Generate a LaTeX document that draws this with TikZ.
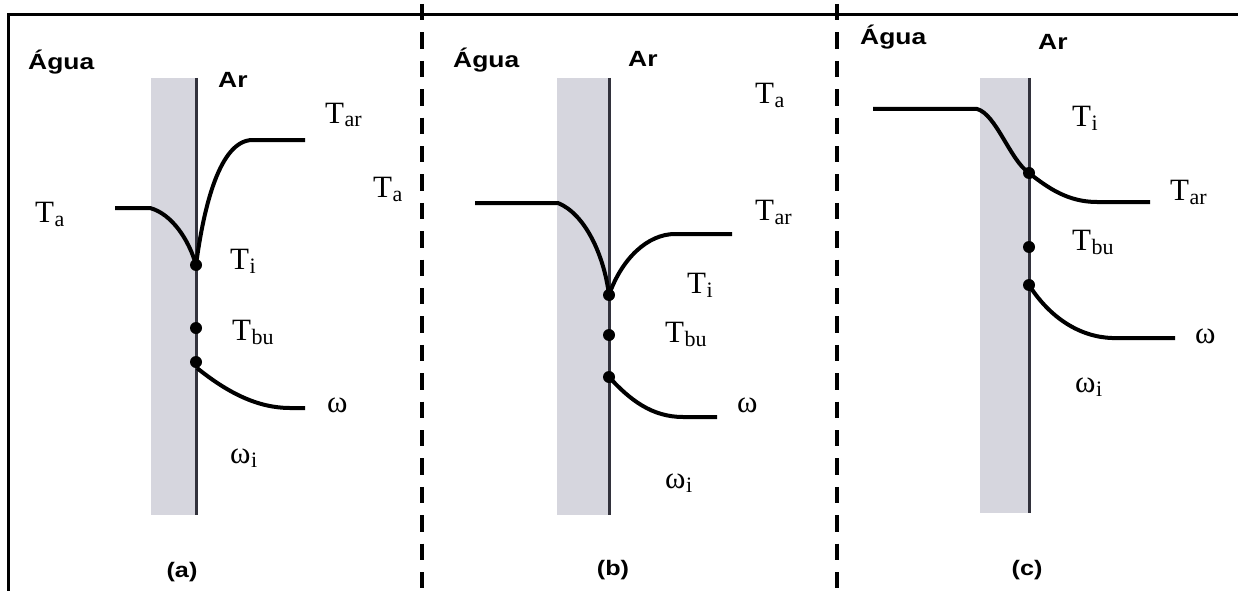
\documentclass[tikz,border=0pt]{standalone}
\usepackage{fontspec}
\setmainfont{Liberation Serif}
\newfontfamily\arialf{Liberation Sans}
\definecolor{bandgray}{RGB}{214,214,222}
\definecolor{wallline}{RGB}{50,50,60}
\newcommand{\Tsub}[2]{#1\kern0.5pt\raisebox{-4pt}{\fontsize{22}{22}\selectfont #2}}
\newcommand{\swide}[1]{\scalebox{1.2}[1]{#1}}
\begin{document}
\begin{tikzpicture}[x=1pt,y=-1pt,
  lab/.style={anchor=base west, inner sep=0pt, font=\fontsize{31}{31}\selectfont},
  hdr/.style={anchor=base west, inner sep=0pt, font=\arialf\bfseries\fontsize{22}{22}\selectfont},
  capt/.style={inner sep=0pt, font=\arialf\bfseries\fontsize{21}{21}\selectfont},
  curve/.style={line width=4pt},
  wall/.style={line width=3pt, draw=wallline},
  band/.style={fill=bandgray},
  dot/.style={circle, fill=black, minimum size=12pt, inner sep=0pt},
  frame/.style={line width=3.5pt},
  sep/.style={line width=4pt, dash pattern=on 16.4pt off 12pt}]
\useasboundingbox (0,0) rectangle (1238,591);
% frame
\draw[frame] (7,14.5) -- (1238,14.5);
\draw[frame] (8.5,13) -- (8.5,591);
\draw[sep] (422,4) -- (422,591);
\draw[sep] (837,4) -- (837,591);

% ---------------- panel (a)
\fill[band] (151,78) rectangle (196,515);
\draw[wall] (196,78) -- (196,515);
\coordinate (aTi) at (196,265);
\coordinate (aTbu) at (196,328);
\coordinate (aWi) at (196,362);
\draw[curve] (115,208) -- (150,208) .. controls (172,214) and (189,240) .. (aTi);
\draw[curve] (aTi) .. controls (204,205) and (220,141) .. (252,140) -- (305,140);
\draw[curve] (197,368) .. controls (228,393) and (258,408) .. (290,408) -- (305,408);
\node[dot] (daTi) at (aTi) {};
\node[dot] (daTbu) at (aTbu) {};
\node[dot] (daWi) at (aWi) {};
\node[hdr] (aAgua) at (28,70) {\swide{Água}};
\node[hdr] (aAr) at (218,88) {\swide{Ar}};
\node[lab] (aLTa) at (35,222) {\Tsub{T}{a}};
\node[lab] (aLTar) at (325,123) {\Tsub{T}{ar}};
\node[lab] (aLTa2) at (373,197) {\Tsub{T}{a}};
\node[lab] (aLTi) at (230,269) {\Tsub{T}{i}};
\node[lab] (aLTbu) at (232,340) {\Tsub{T}{bu}};
\node[lab] (aLw) at (327,412) {ω};
\node[lab] (aLwi) at (230,463) {\Tsub{ω}{i}};
\node[capt] (aCap) at (182,572) {\swide{(a)}};

% ---------------- panel (b)
\fill[band] (557,78) rectangle (609,515);
\draw[wall] (609,78) -- (609,515);
\coordinate (bTi) at (609,295);
\coordinate (bTbu) at (609,335);
\coordinate (bWi) at (609,377);
\draw[curve] (475,203) -- (558,203) .. controls (585,214) and (604,255) .. (bTi);
\draw[curve] (bTi) .. controls (622,258) and (648,234) .. (675,234) -- (732,234);
\draw[curve] (bWi) .. controls (630,400) and (652,417) .. (683,417) -- (717,417);
\node[dot] (dbTi) at (bTi) {};
\node[dot] (dbTbu) at (bTbu) {};
\node[dot] (dbWi) at (bWi) {};
\node[hdr] (bAgua) at (453,68) {\swide{Água}};
\node[hdr] (bAr) at (628,67) {\swide{Ar}};
\node[lab] (bLTa) at (755,103) {\Tsub{T}{a}};
\node[lab] (bLTar) at (755,220) {\Tsub{T}{ar}};
\node[lab] (bLTi) at (687,293) {\Tsub{T}{i}};
\node[lab] (bLTbu) at (665,342) {\Tsub{T}{bu}};
\node[lab] (bLw) at (737,412) {ω};
\node[lab] (bLwi) at (665,488) {\Tsub{ω}{i}};
\node[capt] (bCap) at (613,570) {\swide{(b)}};

% ---------------- panel (c)
\fill[band] (980,78) rectangle (1029,513);
\draw[wall] (1029,78) -- (1029,513);
\coordinate (cTi) at (1029,173);
\coordinate (cTbu) at (1029,247);
\coordinate (cWi) at (1029,285);
\draw[curve] (873,109) -- (977,109) .. controls (996,114) and (1010,160) .. (cTi)
  .. controls (1048,188) and (1068,202) .. (1097,202) -- (1150,202);
\draw[curve] (cWi) .. controls (1050,318) and (1080,337) .. (1112,338) -- (1175,338);
\node[dot] (dcTi) at (cTi) {};
\node[dot] (dcTbu) at (cTbu) {};
\node[dot] (dcWi) at (cWi) {};
\node[hdr] (cAgua) at (860,45) {\swide{Água}};
\node[hdr] (cAr) at (1038,50) {\swide{Ar}};
\node[lab] (cLTi) at (1072,127) {\Tsub{T}{i}};
\node[lab] (cLTar) at (1170,200) {\Tsub{T}{ar}};
\node[lab] (cLTbu) at (1072,250) {\Tsub{T}{bu}};
\node[lab] (cLw) at (1195,343) {ω};
\node[lab] (cLwi) at (1075,392) {\Tsub{ω}{i}};
\node[capt] (cCap) at (1027,570) {\swide{(c)}};
\end{tikzpicture}
\end{document}
